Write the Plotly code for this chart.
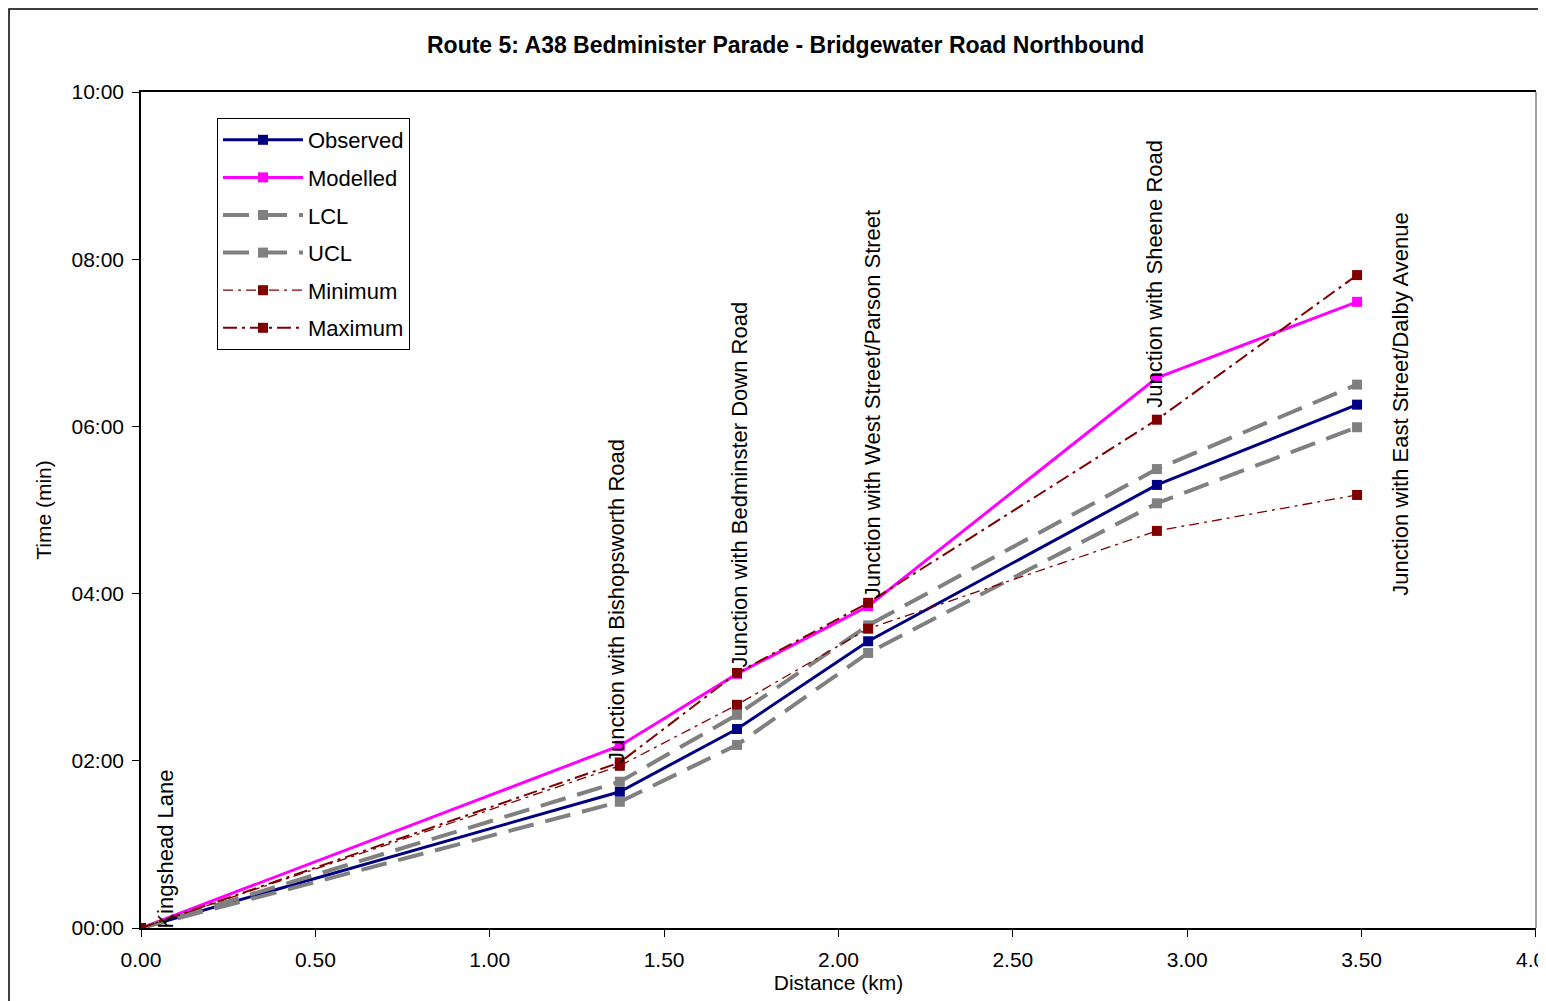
import plotly.graph_objects as go

# ---- data ----
distance_km = [0.0, 1.373, 1.709, 2.085, 2.913, 3.487]
observed = [0.0, 1.63, 2.38, 3.43, 5.30, 6.26]
modelled = [0.0, 2.18, 3.04, 3.85, 6.58, 7.49]
lcl = [0.0, 1.51, 2.19, 3.29, 5.08, 5.99]
ucl = [0.0, 1.75, 2.55, 3.62, 5.49, 6.50]
minimum = [0.0, 1.94, 2.67, 3.58, 4.75, 5.18]
maximum = [0.0, 1.98, 3.05, 3.89, 6.08, 7.81]

stop_names = ["Kingshead Lane", "Junction with Bishopsworth Road",
              "Junction with Bedminster Down Road",
              "Junction with West Street/Parson Street",
              "Junction with Sheene Road",
              "Junction with East Street/Dalby Avenue"]
label_x = [0.069, 1.365, 1.717, 2.096, 2.908, 3.613]
label_y = [0.0, 1.95, 3.09, 3.92, 6.20, 3.95]

x_tickvals = [0, 0.5, 1, 1.5, 2, 2.5, 3, 3.5, 4]
x_ticktext = ["0.00", "0.50", "1.00", "1.50", "2.00", "2.50", "3.00", "3.50", "4.00"]
y_tickvals = [0, 2, 4, 6, 8, 10]
y_ticktext = ["00:00", "02:00", "04:00", "06:00", "08:00", "10:00"]

FONT = "Arial, Liberation Sans, sans-serif"

# plot area in page pixels (page has an 8px body margin)
OFF = 8
PL, PR, PT, PB = 141, 1536, 92, 928
W, H = 1546, 1001
pw, ph = PR - PL, PB - PT

series = [
    ("Observed", observed, "#000080", 3, "solid"),
    ("Modelled", modelled, "#FF00FF", 3, "solid"),
    ("LCL", lcl, "#808080", 4, "26px,12px"),
    ("UCL", ucl, "#808080", 4, "26px,12px"),
    ("Minimum", minimum, "#800000", 1.3, "10px,5px,3px,5px"),
    ("Maximum", maximum, "#800000", 2, "14px,5px,3px,5px"),
]

fig = go.Figure()
for name, vals, color, width, dash in series:
    fig.add_trace(go.Scatter(
        x=distance_km, y=vals, name=name, mode="lines+markers",
        line=dict(color=color, width=width, dash=dash),
        marker=dict(symbol="square", size=10, color=color),
        legendgroup=name,
    ))

annotations = []
for i, (name, lx, ly) in enumerate(zip(stop_names, label_x, label_y)):
    annotations.append(dict(
        x=lx, y=ly, xref="x", yref="y", text=name, showarrow=False,
        textangle=-90, xanchor="center", yanchor="bottom",
        yshift=-3 if i == 0 else 0,
        font=dict(family=FONT, size=22, color="black"),
    ))
annotations.append(dict(
    x=(785 - PL) / pw, y=(PB - 45) / ph, xref="paper", yref="paper",
    text="<b>Route 5: A38 Bedminister Parade - Bridgewater Road Northbound</b>",
    showarrow=False, xanchor="center", yanchor="middle",
    font=dict(family=FONT, size=23, color="black"),
))
# last x tick label (cropped at the right edge in the original)
annotations.append(dict(
    x=1, y=0, xref="paper", yref="paper", text=x_ticktext[-1],
    showarrow=False, xanchor="center", yanchor="top", yshift=-18,
    font=dict(family=FONT, size=21, color="black"),
))

shapes = [
    # outer chart border (cropped on the right / bottom)
    dict(type="rect", xref="paper", yref="paper",
         x0=(OFF + 1 - PL) / pw, x1=1.2, y0=-0.3, y1=(PB - OFF - 1) / ph,
         line=dict(color="black", width=1.5), layer="below"),
    # right plot-area border
    dict(type="line", xref="paper", yref="paper", x0=1, x1=1, y0=0, y1=1,
         line=dict(color="#808080", width=1.5)),
]

fig.update_layout(
    width=W, height=H,
    margin=dict(l=PL - OFF, r=W - (PR - OFF), t=PT - OFF, b=H - (PB - OFF)),
    paper_bgcolor="white", plot_bgcolor="white",
    font=dict(family=FONT, size=21, color="black"),
    annotations=annotations, shapes=shapes,
    legend=dict(
        x=(217 - PL) / pw, y=(PB - 118) / ph, xanchor="left", yanchor="top",
        bordercolor="black", borderwidth=1, bgcolor="white",
        font=dict(family=FONT, size=22, color="black"),
        itemwidth=80, tracegroupgap=6,
    ),
    xaxis=dict(
        range=[0, 4.0001], tickvals=x_tickvals, ticktext=x_ticktext,
        showgrid=False, zeroline=False,
        showline=True, linecolor="black", linewidth=1.5, mirror=True,
        ticks="outside", ticklen=7, tickcolor="black", ticklabelstandoff=5,
        tickfont=dict(family=FONT, size=21),
        title=dict(text="Distance (km)", font=dict(family=FONT, size=21), standoff=0),
    ),
    yaxis=dict(
        range=[0, 10], tickvals=y_tickvals, ticktext=y_ticktext,
        showgrid=False, zeroline=False,
        showline=True, linecolor="black", linewidth=1.5,
        ticks="outside", ticklen=7, tickcolor="black", ticklabelstandoff=4,
        tickfont=dict(family=FONT, size=21),
        title=dict(text="Time (min)", font=dict(family=FONT, size=21), standoff=14),
    ),
)

fig.write_html("out.html")
